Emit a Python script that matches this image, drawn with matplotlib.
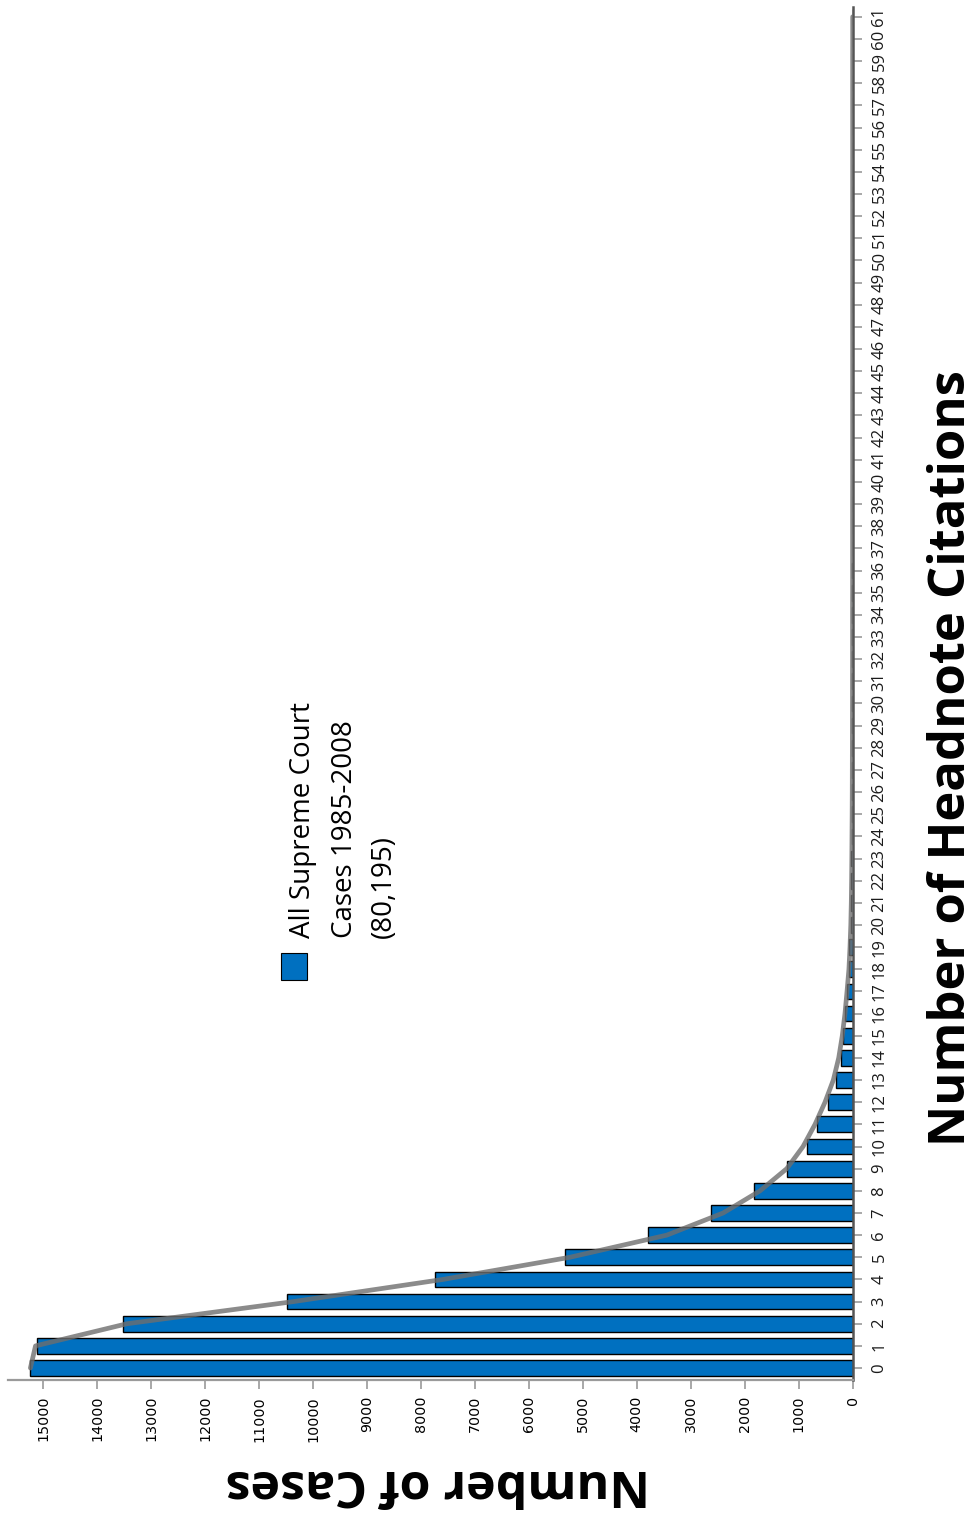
import matplotlib
matplotlib.use("Agg")
import matplotlib.pyplot as plt
from matplotlib.patches import Rectangle
import numpy as np

# ---- data ----
citations = list(range(0, 62))
cases = [15235, 15118, 13513, 10476, 7730, 5333, 3785, 2630, 1822, 1211,
         852, 661, 452, 315, 222, 174, 143, 100, 63, 63,
         40, 35, 30, 25, 20, 17, 14, 12, 10, 9,
         8, 7, 6, 5, 5, 4, 4, 3, 3, 3,
         2, 2, 2, 2, 2, 1, 1, 1, 1, 1,
         1, 1, 1, 1, 1, 1, 1, 1, 1, 1,
         1, 1]
fit_curve = [15235, 15140, 13445, 10360, 7590, 5240, 3444, 2400, 1717, 1222,
             920, 698, 513, 359, 259, 193, 143, 105, 70, 50,
             35, 26, 20, 16, 13, 10, 8, 7, 6, 5,
             4, 4, 3, 3, 3, 2, 2, 2, 2, 2,
             1, 1, 1, 1, 1, 1, 1, 1, 1, 1,
             1, 1, 1, 1, 1, 1, 1, 1, 1, 1,
             0, 0]
value_ticks = [0, 1000, 2000, 3000, 4000, 5000, 6000, 7000, 8000, 9000,
               10000, 11000, 12000, 13000, 14000, 15000]
legend_lines = ["All Supreme Court", "Cases 1985-2008", "(80,195)"]
xlabel_text = "Number of Headnote Citations"
ylabel_text = "Number of Cases"

W, H = 980, 1515
fig = plt.figure(figsize=(W / 100, H / 100), dpi=100)
fig.patch.set_facecolor("white")

def fx(px):
    return px / W

def fy(py):
    return 1 - py / H

ax = fig.add_axes([fx(8), fy(1380), (852.7 - 8) / W, (1380 - 7) / H])
ax.set_facecolor("white")

bar_color = "#0070C0"
ax.barh(citations, cases, height=0.71, color=bar_color, edgecolor="black",
        linewidth=1.0, zorder=2)
ax.plot(fit_curve, citations, color="#6e6e6e", alpha=0.8, linewidth=3.4,
        solid_joinstyle="round", solid_capstyle="round", zorder=3)

ax.set_xlim(15650, 0)
ax.set_ylim(-0.54, 61.44)

for s in ["top", "left"]:
    ax.spines[s].set_visible(False)
ax.spines["bottom"].set_color("#9a9a9a")
ax.spines["bottom"].set_linewidth(1.6)
ax.spines["right"].set_color("#555555")
ax.spines["right"].set_linewidth(1.8)

ax.yaxis.tick_right()
ax.set_yticks(citations)
ax.set_yticklabels([str(c) for c in citations], rotation=90, va="center",
                   ha="left", family="Open Sans", fontsize=12, color="#1a1a1a")
ax.tick_params(axis="y", direction="out", length=6.5, width=1.2,
               color="#9a9a9a", pad=7)

ax.set_xticks(value_ticks)
ax.set_xticklabels([str(v) for v in value_ticks], rotation=90, ha="center",
                   va="top", family="DejaVu Sans", fontsize=10.3, color="black")
ax.tick_params(axis="x", direction="out", length=6.5, width=1.2,
               color="#9a9a9a", pad=5)

# legend (drawn rotated like the rest of the chart)
fig.patches.append(Rectangle((fx(281), fy(980)), 26 / W, 27 / H,
                             transform=fig.transFigure, facecolor=bar_color,
                             edgecolor="black", linewidth=0.8))
baselines = [310, 352, 391]
for line, bx in zip(legend_lines, baselines):
    fig.text(fx(bx), fy(938), line, rotation=90, rotation_mode="anchor",
             ha="left", va="baseline", family="Open Sans", fontsize=20,
             color="black")

# axis titles
fig.text(fx(952), fy(758), xlabel_text, rotation=90, ha="center",
         va="center", family="Open Sans", fontweight="bold", fontsize=36.5,
         color="black")
fig.text(fx(438), fy(1483), ylabel_text, rotation=180, ha="center",
         va="center", family="Open Sans", fontweight="bold", fontsize=36,
         color="black")

fig.savefig("out.png", dpi=100, facecolor="white")
